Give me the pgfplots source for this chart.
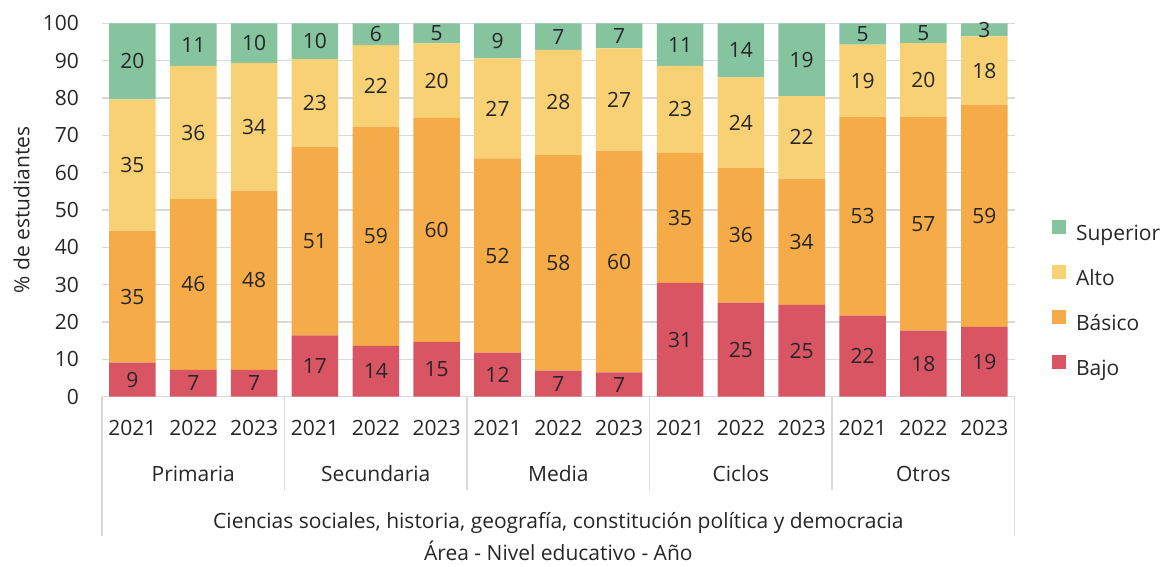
\documentclass[border=0pt]{standalone}
\usepackage{pgfplots}
\usepackage{pgfplotstable}
\pgfplotsset{compat=1.18}
\usepackage{fontspec}
\setmainfont{Open Sans}
\definecolor{cSup}{HTML}{86C49F}
\definecolor{cAlto}{HTML}{F8D175}
\definecolor{cBas}{HTML}{F5AB47}
\definecolor{cBajo}{HTML}{D95563}
\definecolor{cGrid}{HTML}{D9D9D9}
\definecolor{cText}{HTML}{262626}
\pgfplotstableread{
x bajo bajoL basico basicoL alto altoL sup supL
0 9.1 9 35.4 35 35.1 35 20.4 20
1 7.2 7 45.7 46 35.7 36 11.4 11
2 7.2 7 48.0 48 34.2 34 10.6 10
3 16.4 17 50.6 51 23.4 23 9.6 10
4 13.6 14 58.7 59 21.9 22 5.8 6
5 14.7 15 60.0 60 19.9 20 5.4 5
6 11.8 12 52.0 52 26.8 27 9.4 9
7 7.0 7 57.7 58 28.2 28 7.1 7
8 6.5 7 59.4 60 27.4 27 6.7 7
9 30.5 31 34.8 35 23.3 23 11.4 11
10 25.2 25 36.0 36 24.3 24 14.5 14
11 24.6 25 33.8 34 22.1 22 19.5 19
12 21.7 22 53.3 53 19.3 19 5.7 5
13 17.7 18 57.3 57 19.7 20 5.3 5
14 18.7 19 59.5 59 18.3 18 3.5 3
}\datatable
\begin{document}
\begin{tikzpicture}[font=\fontsize{10.5}{12.6}\selectfont]
\useasboundingbox (-51pt,-85.15pt) rectangle (530.5pt,198.35pt);
\begin{axis}[
  at={(0,0)}, anchor=south west,
  scale only axis, width=456.35pt, height=186.7pt,
  ybar stacked, bar width=0.765,
  xmin=-0.5, xmax=14.5, ymin=0, ymax=100,
  ytick={0,10,...,100},
  xtick={0,...,14},
  xticklabels={2021,2022,2023,2021,2022,2023,2021,2022,2023,2021,2022,2023,2021,2022,2023},
  /pgf/number format/assume math mode=true,
  ymajorgrids, grid style={cGrid, line width=0.7pt},
  axis line style={draw=none},
  major tick length=0pt,
  tick style={draw=none},
  ticklabel style={text=cText},
  yticklabel style={anchor=east, inner sep=0pt, xshift=-11.35pt},
  xticklabel style={anchor=base, inner sep=0pt, yshift=-19.2pt},
  ylabel={\% de estudiantes},
  ylabel style={at={(axis description cs:-0.0797,0.5)}, anchor=base, rotate=0, text=cText},
  xlabel={Área - Nivel educativo - Año},
  xlabel style={at={(axis description cs:0.5,0)}, anchor=base, yshift=-82pt, text=cText},
  clip=false,
  reverse legend,
  legend cell align=left,
  legend image code/.code={\fill[#1] (0pt,0.3pt) rectangle (7pt,7.3pt);},
  legend style={draw=none, fill=none, inner sep=0pt, outer sep=0pt,
    at={(axis description cs:1.0409,0.4730)}, anchor=north west,
    row sep=9.9pt, column sep=5pt, text=cText,
    nodes={inner sep=0pt, text height=8pt, text depth=2.6pt}},
]
\addplot[fill=cBajo, draw=none] table[x=x, y=bajo] {\datatable};
\addplot[fill=cBas, draw=none] table[x=x, y=basico] {\datatable};
\addplot[fill=cAlto, draw=none] table[x=x, y=alto] {\datatable};
\addplot[fill=cSup, draw=none] table[x=x, y=sup] {\datatable};
\legend{Bajo, Básico, Alto, Superior}
\draw[cGrid, line width=0.75pt] (axis cs:-0.5,0) -- ++(0pt,-69.7pt);
\draw[cGrid, line width=0.75pt] (axis cs:14.5,0) -- ++(0pt,-69.7pt);
\draw[cGrid, line width=0.75pt] (axis cs:2.5,0) -- ++(0pt,-46.7pt);
\draw[cGrid, line width=0.75pt] (axis cs:5.5,0) -- ++(0pt,-46.7pt);
\draw[cGrid, line width=0.75pt] (axis cs:8.5,0) -- ++(0pt,-46.7pt);
\draw[cGrid, line width=0.75pt] (axis cs:11.5,0) -- ++(0pt,-46.7pt);
\node[anchor=base, text=cText, inner sep=0pt] at ([yshift=-42.5pt]axis cs:1,0) {Primaria};
\node[anchor=base, text=cText, inner sep=0pt] at ([yshift=-42.5pt]axis cs:4,0) {Secundaria};
\node[anchor=base, text=cText, inner sep=0pt] at ([yshift=-42.5pt]axis cs:7,0) {Media};
\node[anchor=base, text=cText, inner sep=0pt] at ([yshift=-42.5pt]axis cs:10,0) {Ciclos};
\node[anchor=base, text=cText, inner sep=0pt] at ([yshift=-42.5pt]axis cs:13,0) {Otros};
\node[anchor=base, text=cText, inner sep=0pt] at ([yshift=-66pt]axis cs:7,0) {Ciencias sociales, historia, geografía, constitución política y democracia};
\end{axis}
\begin{axis}[
  at={(0,0)}, anchor=south west,
  scale only axis, width=456.35pt, height=186.7pt,
  xmin=-0.5, xmax=14.5, ymin=0, ymax=100,
  hide axis, clip=false,
  nodes near coords,
  point meta=explicit symbolic,
  every node near coord/.append style={anchor=center, inner sep=0pt, text=cText, font=\fontsize{10.5}{12.6}\selectfont},
]
\addplot[draw=none, mark=none] table[x=x, y expr=\thisrow{bajo}/2, meta=bajoL] {\datatable};
\addplot[draw=none, mark=none] table[x=x, y expr=\thisrow{bajo}+\thisrow{basico}/2, meta=basicoL] {\datatable};
\addplot[draw=none, mark=none] table[x=x, y expr=\thisrow{bajo}+\thisrow{basico}+\thisrow{alto}/2, meta=altoL] {\datatable};
\addplot[draw=none, mark=none] table[x=x, y expr=\thisrow{bajo}+\thisrow{basico}+\thisrow{alto}+\thisrow{sup}/2, meta=supL] {\datatable};
\end{axis}
\end{tikzpicture}
\end{document}
